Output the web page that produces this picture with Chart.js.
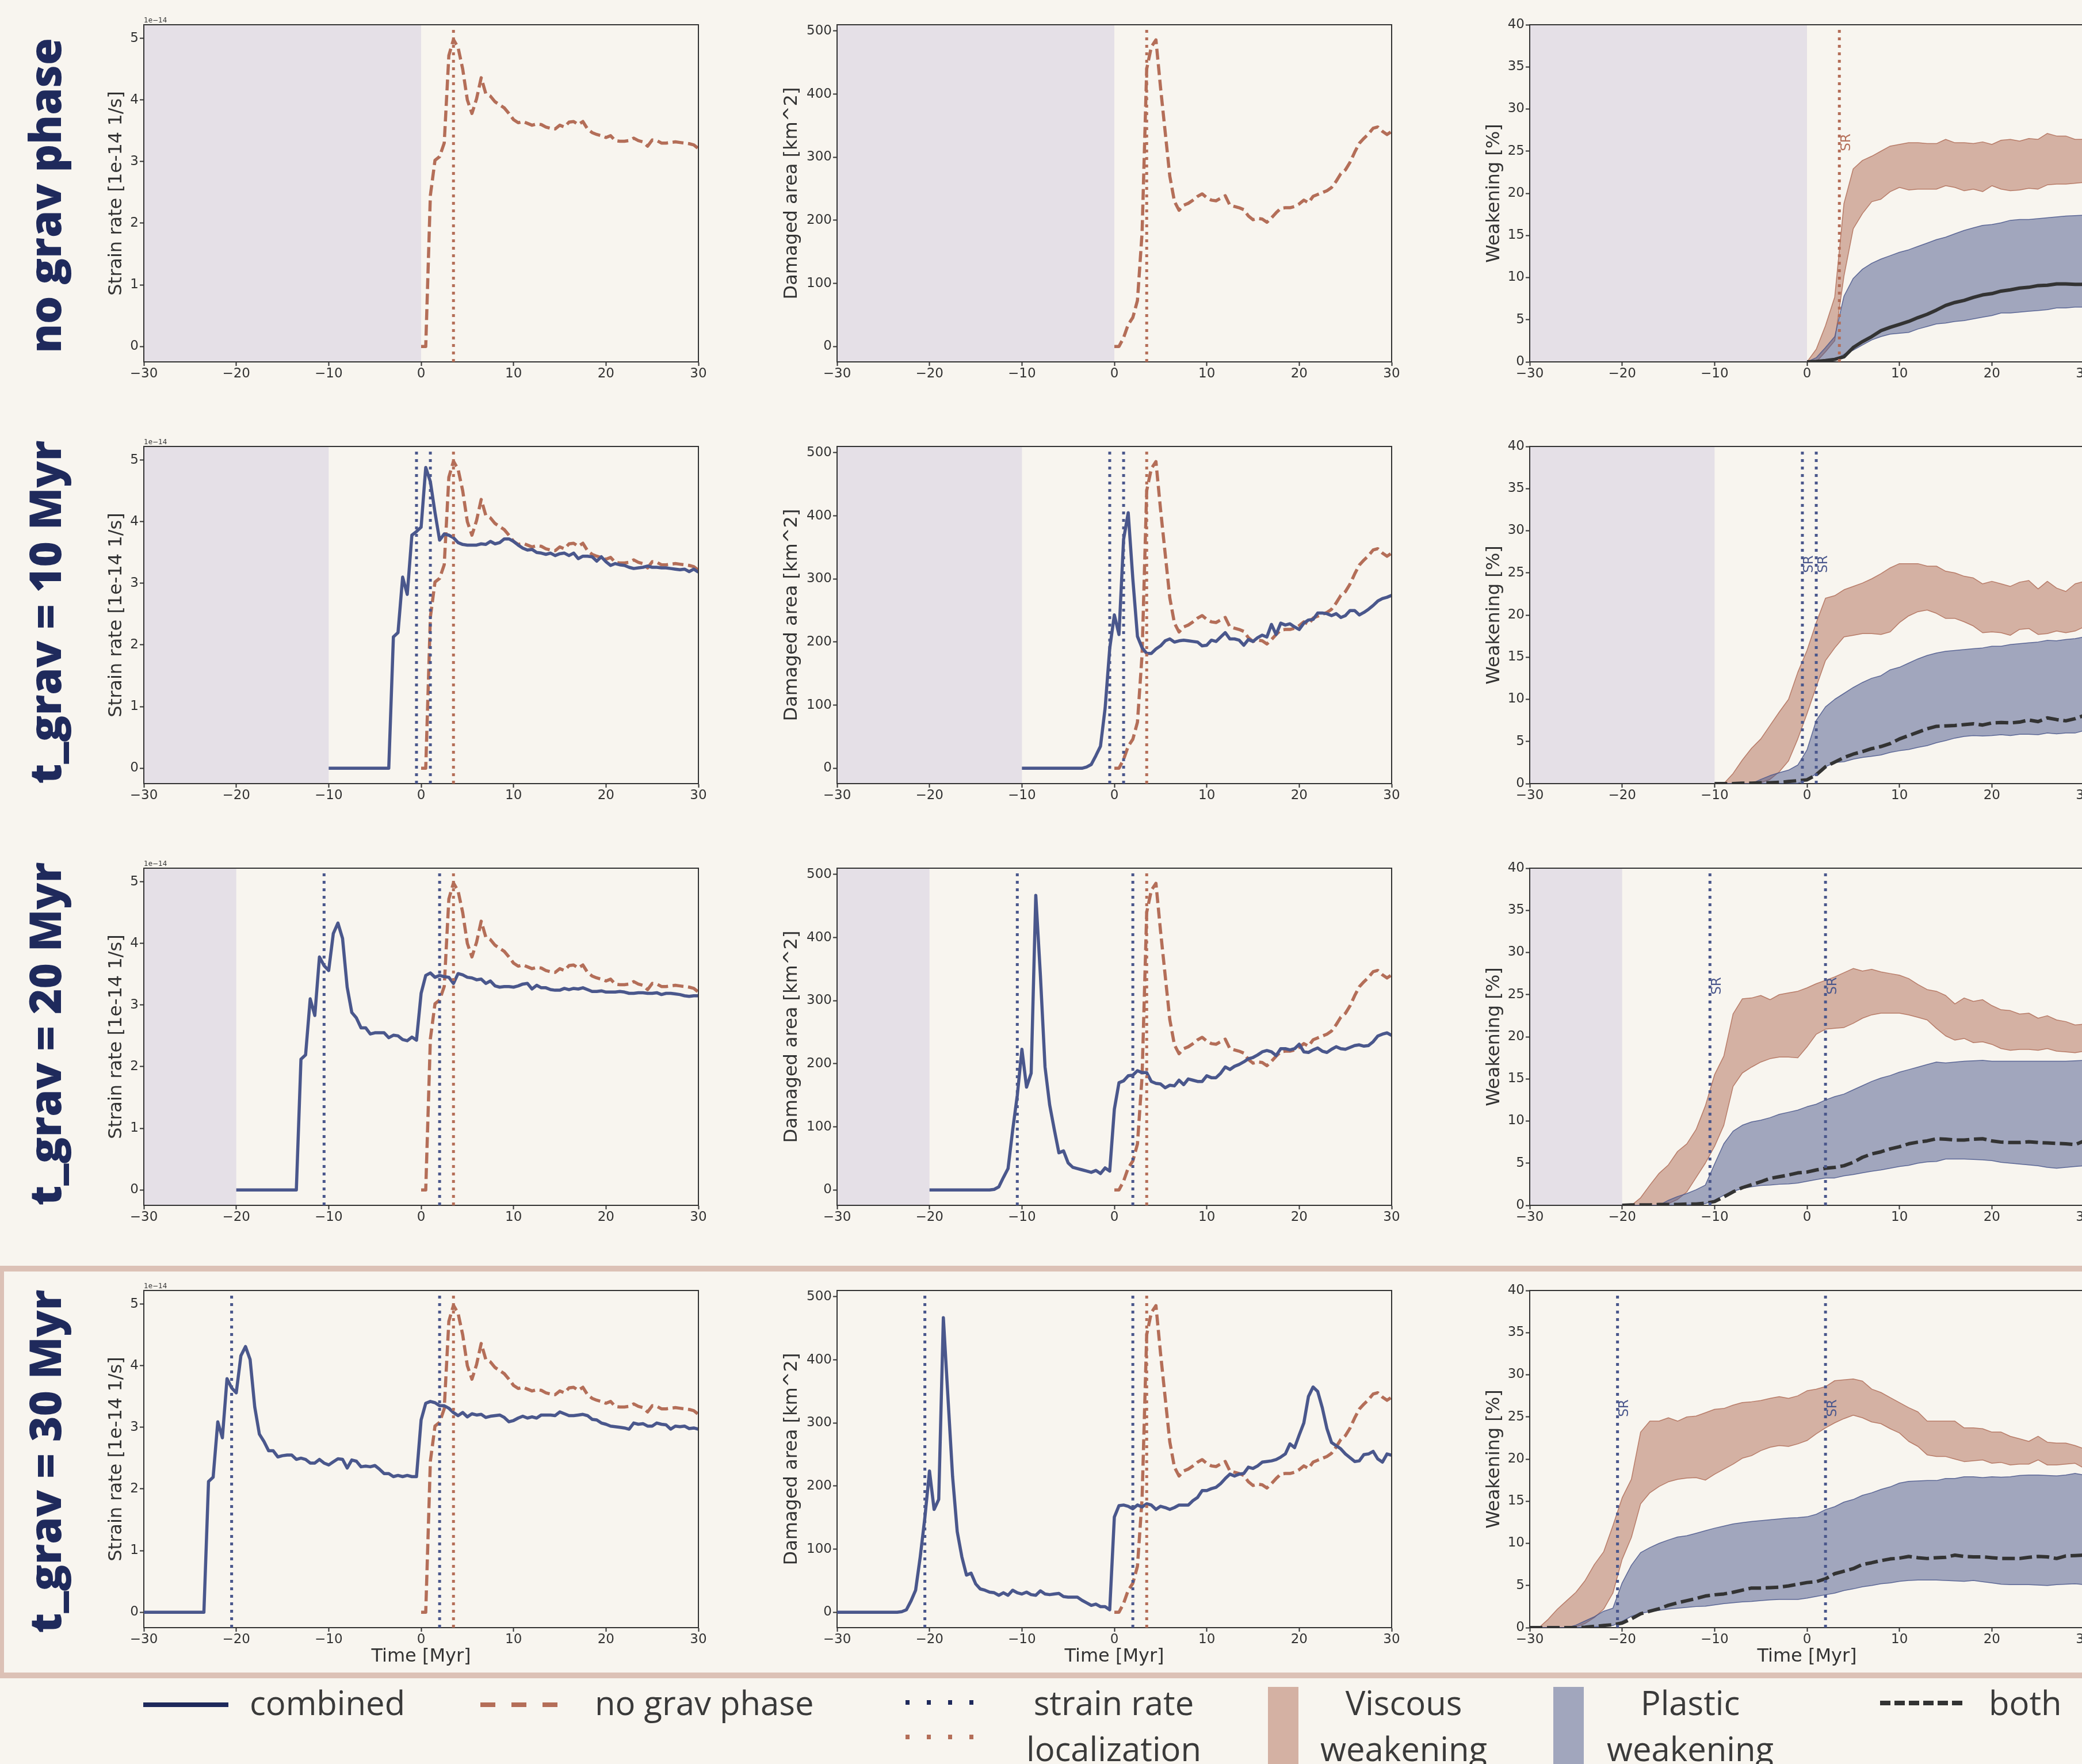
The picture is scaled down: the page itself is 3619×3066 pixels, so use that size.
<!DOCTYPE html>
<html>
<head>
<meta charset="utf-8">
<script src="https://cdn.jsdelivr.net/npm/chart.js@4.4.1/dist/chart.umd.min.js"></script>
<style>
  html, body { margin: 0; padding: 0; width: 3619px; height: 3066px; overflow: hidden; background: #f8f5ef; }
  body { position: relative; }
  canvas { position: absolute; }
  #frame { position: absolute; left: -3px; top: 2200px; width: 3700px; height: 717px; box-sizing: border-box; border: 10px solid #dcc1b6; }
  #overlay { position: absolute; left: 0; top: 0; }
</style>
</head>
<body>
<div id="frame"></div>

<svg id="overlay" width="3619" height="3066" xmlns="http://www.w3.org/2000/svg">
  <g font-family="Open Sans" font-weight="800" font-size="76" fill="#1f2a5c" text-anchor="middle" dominant-baseline="central">
    <text id="rl0" transform="translate(76,340) rotate(-90)"></text>
    <text id="rl1" transform="translate(76,1064) rotate(-90)"></text>
    <text id="rl2" transform="translate(76,1797) rotate(-90)"></text>
    <text id="rl3" transform="translate(76,2540) rotate(-90)"></text>
  </g>
  <g>
    <line x1="249" y1="2963" x2="397" y2="2963" stroke="#1f2a5c" stroke-width="8"/>
    <line x1="835" y1="2963" x2="969" y2="2963" stroke="#b46e58" stroke-width="8" stroke-dasharray="26 28"/>
    <line x1="1574" y1="2959" x2="1722" y2="2959" stroke="#1f2a5c" stroke-width="8" stroke-dasharray="7 30"/>
    <line x1="1574" y1="3019" x2="1722" y2="3019" stroke="#b46e58" stroke-width="8" stroke-dasharray="7 30"/>
    <rect x="2204" y="2932" width="53" height="140" fill="rgba(176,109,88,0.5)"/>
    <rect x="2700" y="2932" width="53" height="140" fill="rgba(74,87,140,0.5)"/>
    <line x1="3268" y1="2960" x2="3418" y2="2960" stroke="#333" stroke-width="8" stroke-dasharray="18 7"/>
  </g>
  <g font-family="Open Sans" font-size="58" fill="#3a3a3a">
    <text x="434" y="2981">combined</text>
    <text x="1034" y="2981">no grav phase</text>
    <text x="1936" y="2981" text-anchor="middle">strain rate</text>
    <text x="1936" y="3061" text-anchor="middle">localization</text>
    <text x="2440" y="2981" text-anchor="middle">Viscous</text>
    <text x="2440" y="3061" text-anchor="middle">weakening</text>
    <text x="2938" y="2981" text-anchor="middle">Plastic</text>
    <text x="2938" y="3061" text-anchor="middle">weakening</text>
    <text x="3457" y="2981">both</text>
  </g>
</svg>

<script>
// ---- data ----
const xTicks = [-30, -20, -10, 0, 10, 20, 30];
const srTicks = [0, 1, 2, 3, 4, 5];
const daTicks = [0, 100, 200, 300, 400, 500];
const wkTicks = [0, 5, 10, 15, 20, 25, 30, 35, 40];
const rowLabels = ['no grav phase', 't_grav = 10 Myr', 't_grav = 20 Myr', 't_grav = 30 Myr'];
const gravTimes = [0, 10, 20, 30];     // length of gravity phase, Myr
const locNoGrav = 3.5;                 // strain rate localization, no grav phase
const locComb = [[], [-0.5, 1.0], [-10.5, 2.0], [-20.5, 2.0]];

// strain rate [1e-14 1/s], t = 0..30 step 0.5
const srNoGrav = [0, 0, 2.45, 3.02, 3.08, 3.3, 4.72, 4.98, 4.85, 4.5, 4.0, 3.78, 4.02, 4.36, 4.1, 4.06, 3.97, 3.92, 3.87, 3.78,
  3.68, 3.63, 3.65, 3.62, 3.59, 3.61, 3.6, 3.56, 3.54, 3.53, 3.59, 3.56, 3.64, 3.65, 3.6, 3.65, 3.53, 3.47, 3.44, 3.42,
  3.39, 3.42, 3.34, 3.33, 3.33, 3.34, 3.38, 3.34, 3.32, 3.25, 3.35, 3.34, 3.3, 3.3, 3.31, 3.32, 3.31, 3.3, 3.29, 3.27, 3.21];
// damaged area [km^2], t = 0..30 step 0.5
const daNoGrav = [0, 0, 14, 35, 46, 73, 180, 440, 475, 486, 410, 340, 270, 230, 216, 224, 227, 232, 238, 242,
  236, 232, 231, 235, 239, 224, 222, 220, 217, 207, 201, 203, 202, 197, 204, 212, 219, 220, 220, 222,
  226, 232, 228, 238, 241, 244, 247, 252, 262, 274, 280, 292, 308, 322, 330, 337, 346, 348, 341, 336, 341];

// combined, t = -t_grav..30 step 0.5
const srComb10 = [0, 0, 0, 0, 0, 0, 0, 0, 0, 0, 0, 0, 0, 0,
  2.13, 2.2, 3.1, 2.82, 3.78, 3.84, 3.91, 4.88, 4.65, 4.15, 3.7, 3.8, 3.78, 3.74, 3.66, 3.63, 3.62, 3.62, 3.62, 3.64,
  3.63, 3.68, 3.64, 3.66, 3.72, 3.72, 3.68, 3.62, 3.57, 3.54, 3.55, 3.5, 3.49, 3.47, 3.49, 3.45, 3.48, 3.49, 3.45, 3.49,
  3.4, 3.44, 3.44, 3.43, 3.36, 3.43, 3.35, 3.29, 3.32, 3.3, 3.29, 3.26, 3.24, 3.25, 3.26, 3.28, 3.26, 3.26, 3.25, 3.25,
  3.24, 3.23, 3.22, 3.23, 3.19, 3.23, 3.18];
const daComb10 = [0, 0, 0, 0, 0, 0, 0, 0, 0, 0, 0, 0, 0, 0,
  2, 6, 20, 35, 95, 190, 243, 212, 363, 405, 300, 209, 191, 182, 182, 189, 194, 202, 205, 200,
  202, 203, 202, 201, 200, 194, 195, 203, 201, 208, 215, 205, 205, 203, 195, 204, 201, 207, 211, 208,
  228, 212, 230, 227, 229, 224, 220, 230, 235, 236, 246, 246, 245, 242, 245, 239, 242, 250, 250, 243,
  247, 252, 258, 265, 269, 271, 274];
const srComb20 = [0, 0, 0, 0, 0, 0, 0, 0, 0, 0, 0, 0, 0, 0,
  2.12, 2.19, 3.1, 2.83, 3.78, 3.64, 3.56, 4.16, 4.33, 4.08, 3.29, 2.88, 2.79, 2.63, 2.63, 2.53, 2.55, 2.55, 2.55, 2.47,
  2.51, 2.5, 2.44, 2.42, 2.48, 2.43,
  3.19, 3.48, 3.52, 3.45, 3.48, 3.46, 3.45, 3.35, 3.51, 3.49, 3.45, 3.44, 3.41, 3.42, 3.35, 3.39, 3.31, 3.29, 3.3, 3.3,
  3.29, 3.31, 3.34, 3.35, 3.26, 3.32, 3.28, 3.28, 3.25, 3.24, 3.24, 3.27, 3.25, 3.27, 3.26, 3.28, 3.25, 3.22, 3.22, 3.23,
  3.21, 3.21, 3.21, 3.22, 3.21, 3.19, 3.19, 3.2, 3.2, 3.19, 3.19, 3.2, 3.17, 3.19, 3.19, 3.18, 3.17, 3.15, 3.14, 3.15, 3.15];
const daComb20 = [0, 0, 0, 0, 0, 0, 0, 0, 0, 0, 0, 0, 0, 0,
  1, 5, 20, 34, 95, 150, 223, 163, 185, 467, 340, 195, 135, 96, 59, 62, 43, 36, 34, 32, 30, 28, 31, 26, 35, 30,
  128, 170, 173, 181, 182, 189, 186, 186, 172, 169, 168, 162, 166, 165, 174, 167, 176, 174, 172, 172,
  181, 178, 178, 185, 195, 191, 196, 199, 203, 208, 210, 214, 219, 221, 219, 213, 224, 224, 222, 224,
  231, 219, 218, 222, 225, 220, 218, 223, 227, 224, 223, 226, 229, 230, 228, 229, 235, 244, 247, 249, 245];
const srComb30 = [0, 0, 0, 0, 0, 0, 0, 0, 0, 0, 0, 0, 0, 0,
  2.12, 2.19, 3.09, 2.83, 3.79, 3.64, 3.56, 4.16, 4.31, 4.1, 3.33, 2.89, 2.77, 2.62, 2.62, 2.52, 2.54, 2.55, 2.55, 2.48,
  2.5, 2.48, 2.42, 2.42, 2.48, 2.42, 2.39, 2.44, 2.49, 2.48, 2.34, 2.47, 2.45, 2.36, 2.37, 2.36, 2.38, 2.32, 2.25, 2.25,
  2.2, 2.22, 2.2, 2.22, 2.2, 2.2,
  3.12, 3.39, 3.42, 3.4, 3.35, 3.35, 3.31, 3.24, 3.19, 3.24, 3.17, 3.22, 3.2, 3.21, 3.16, 3.18, 3.19, 3.2, 3.16, 3.09,
  3.11, 3.15, 3.18, 3.15, 3.17, 3.15, 3.2, 3.2, 3.2, 3.19, 3.25, 3.22, 3.19, 3.19, 3.2, 3.21, 3.19, 3.13, 3.12, 3.07,
  3.05, 3.02, 3.01, 3.0, 2.99, 2.97, 3.07, 3.05, 3.06, 3.02, 3.02, 3.07, 3.05, 3.04, 2.97, 3.02, 3.01, 3.02, 2.98, 2.99, 2.97];
const daComb30 = [0, 0, 0, 0, 0, 0, 0, 0, 0, 0, 0, 0, 0, 0,
  1, 4, 18, 35, 88, 150, 224, 163, 179, 467, 340, 215, 128, 88, 59, 62, 45, 37, 35, 32,
  31, 27, 31, 27, 35, 31, 29, 32, 28, 27, 34, 29, 28, 29, 30, 25, 24, 24, 24, 19, 15, 11, 13, 9, 9, 4,
  151, 169, 170, 168, 164, 170, 167, 172, 170, 163, 168, 166, 163, 166, 170, 170, 170, 177, 182, 193,
  193, 196, 198, 204, 212, 219, 216, 219, 220, 230, 228, 232, 238, 239, 240, 242, 246, 251, 267, 261,
  281, 300, 342, 357, 350, 324, 291, 269, 264, 259, 251, 245, 239, 240, 250, 251, 255, 243, 238, 251, 249];

// weakening [%], t = -t_grav..30 step 1
const visUp0 = [0, 1.5, 4.3, 7.7, 18.8, 22.9, 23.9, 24.4, 25.0, 25.6, 25.8, 26.0, 26.0, 25.9, 25.9, 26.4, 26.0, 26.0, 25.9, 26.1,
  25.8, 26.3, 26.4, 26.2, 26.5, 26.4, 27.1, 26.8, 26.8, 26.4, 26.4];
const visLo0 = [0, 0, 1.2, 2.5, 10.2, 15.8, 17.6, 19.0, 19.3, 20.2, 20.7, 20.4, 20.5, 20.5, 20.5, 20.9, 20.7, 20.3, 20.5, 20.2,
  20.9, 20.5, 20.3, 20.4, 20.6, 20.5, 21.0, 21.1, 21.1, 21.2, 21.3];
const plaUp0 = [0, 0.5, 1.7, 3.0, 7.8, 9.9, 11.0, 11.7, 12.2, 12.6, 13.0, 13.3, 13.7, 14.1, 14.5, 14.8, 15.2, 15.6, 15.9, 16.2,
  16.3, 16.5, 16.8, 16.9, 16.9, 17.0, 17.1, 17.2, 17.3, 17.35, 17.4];
const plaLo0 = [0, 0, 0.1, 0.3, 0.9, 1.4, 2.0, 2.6, 3.0, 3.3, 3.4, 3.5, 3.9, 4.2, 4.5, 4.6, 4.8, 4.9, 5.1, 5.3,
  5.5, 5.8, 5.8, 5.9, 6.0, 6.1, 6.2, 6.4, 6.4, 6.5, 6.5];
const both0 = [0, 0.05, 0.15, 0.3, 0.6, 1.7, 2.4, 3.0, 3.7, 4.1, 4.45, 4.8, 5.25, 5.65, 6.15, 6.7, 7.05, 7.3, 7.65, 7.95,
  8.1, 8.4, 8.55, 8.75, 8.85, 9.05, 9.1, 9.25, 9.25, 9.2, 9.2];

const visUp10 = [0, 0, 1.2, 2.8, 4.2, 5.3, 6.9, 8.5, 10.0, 13.2, 15.8, 19.1, 22.0, 22.3, 23.0, 23.4, 23.8, 24.3, 24.9, 25.6,
  26.1, 26.1, 26.1, 25.8, 25.8, 25.2, 25.0, 24.6, 24.4, 23.7, 24.0, 23.7, 23.4, 23.9, 24.1, 23.1, 24.0, 23.2, 22.8, 23.7, 24.0];
const visLo10 = [0, 0, 0, 0, 0, 0.1, 0.5, 1.4, 2.7, 5.3, 8.3, 11.5, 14.6, 16.1, 17.4, 17.6, 17.8, 17.8, 17.7, 18.0,
  19.1, 19.9, 20.4, 20.6, 20.2, 19.6, 19.6, 19.2, 18.7, 17.9, 18.0, 17.9, 17.6, 18.3, 18.4, 17.7, 17.8, 18.1, 17.9, 18.1, 18.6];
const plaUp10 = [0, 0, 0, 0, 0, 0.5, 0.95, 1.3, 1.6, 2.2, 4.0, 7.5, 9.1, 10.0, 10.7, 11.4, 12.0, 12.5, 12.8, 13.5,
  13.8, 14.3, 14.8, 15.2, 15.5, 15.7, 15.8, 15.9, 16.0, 16.1, 16.3, 16.3, 16.5, 16.6, 16.7, 16.8, 17.0, 16.95, 17.1, 17.2, 17.4];
const plaLo10 = [0, 0, 0, 0, 0, 0, 0, 0, 0, 0.05, 0.4, 1.2, 2.0, 2.5, 2.6, 2.9, 3.1, 3.25, 3.4, 3.7,
  3.9, 4.05, 4.3, 4.5, 4.85, 5.1, 5.4, 5.6, 5.7, 5.65, 5.7, 5.8, 5.7, 5.85, 5.85, 5.8, 6.0, 5.9, 6.0, 6.0, 6.3];
const both10 = [0, 0, 0, 0.05, 0.05, 0.1, 0.1, 0.15, 0.25, 0.35, 0.45, 1.05, 2.0, 2.55, 3.1, 3.5, 3.8, 4.15, 4.4, 4.75,
  5.3, 5.7, 6.1, 6.5, 6.8, 6.85, 6.9, 7.0, 7.1, 6.95, 7.2, 7.25, 7.2, 7.3, 7.55, 7.35, 7.8, 7.6, 7.45, 7.7, 8.1];

const visUp20 = [0, 0, 0.9, 2.4, 3.8, 4.8, 6.4, 7.3, 9.0, 11.8, 15.5, 17.7, 22.7, 24.5, 24.6, 24.9, 24.4, 25.0, 25.2, 25.4,
  25.8, 26.3, 26.7, 27.1, 27.6, 28.1, 27.8, 28.0, 27.7, 27.5, 27.3, 26.9, 26.2, 25.6, 25.4, 24.9, 23.9, 24.6, 24.2, 24.4,
  23.7, 23.2, 23.1, 22.7, 22.8, 22.2, 22.5, 22.0, 21.8, 21.4, 21.5];
const visLo20 = [0, 0, 0, 0, 0, 0.2, 0.7, 1.6, 3.3, 5.0, 7.0, 9.5, 14.1, 15.7, 16.4, 17.0, 17.4, 17.6, 17.6, 17.5,
  18.8, 20.3, 20.9, 21.0, 21.1, 21.6, 22.2, 22.6, 22.8, 22.8, 22.8, 22.6, 22.3, 22.0, 21.0, 20.1, 19.6, 19.8, 19.3, 19.4,
  19.1, 18.6, 18.4, 18.5, 18.5, 18.4, 18.6, 18.3, 18.2, 18.1, 18.3];
const plaUp20 = [0, 0, 0, 0, 0, 0.6, 1.05, 1.4, 1.85, 2.4, 4.9, 7.3, 8.8, 9.5, 9.9, 10.1, 10.4, 10.8, 11.05, 11.3,
  11.7, 12.0, 12.5, 12.9, 13.2, 13.7, 14.2, 14.7, 15.1, 15.4, 15.8, 16.1, 16.4, 16.7, 17.0, 16.9, 17.0, 17.1, 17.15, 17.2,
  17.1, 17.1, 17.1, 17.1, 17.1, 17.1, 17.1, 17.1, 17.1, 17.15, 17.2];
const plaLo20 = [0, 0, 0, 0, 0, 0, 0, 0.05, 0.1, 0.2, 0.6, 1.2, 1.65, 2.0, 2.2, 2.35, 2.4, 2.5, 2.55, 2.65,
  2.85, 3.05, 3.25, 3.25, 3.5, 3.65, 3.85, 4.05, 4.2, 4.4, 4.6, 4.75, 5.0, 5.15, 5.2, 5.5, 5.5, 5.5, 5.45, 5.4,
  5.3, 5.1, 5.0, 4.9, 4.8, 4.7, 4.5, 4.4, 4.5, 4.6, 4.7];
const both20 = [0, 0.05, 0.05, 0.05, 0.1, 0.1, 0.1, 0.15, 0.15, 0.25, 0.45, 1.0, 1.6, 2.1, 2.45, 2.8, 3.2, 3.4, 3.6, 3.85,
  3.95, 4.2, 4.4, 4.5, 4.7, 5.1, 5.7, 6.1, 6.35, 6.7, 6.95, 7.3, 7.5, 7.65, 7.9, 7.85, 7.75, 7.75, 7.85, 7.9,
  7.65, 7.5, 7.45, 7.45, 7.55, 7.45, 7.4, 7.35, 7.3, 7.2, 7.65];

const visUp30 = [0, 0, 1.0, 2.2, 3.2, 4.2, 5.6, 7.5, 9.0, 12.1, 15.4, 17.6, 23.2, 24.5, 24.5, 24.9, 24.5, 25.0, 25.1, 25.5,
  25.9, 26.0, 26.4, 26.7, 26.8, 26.95, 27.2, 27.4, 27.2, 27.5,
  28.1, 28.3, 28.6, 29.3, 29.4, 29.5, 29.25, 28.3, 27.9, 27.3, 26.7, 26.1, 25.6, 24.5, 24.5, 24.5, 24.5, 23.7, 23.7, 23.6,
  23.2, 23.2, 22.7, 22.4, 22.1, 22.7, 22.0, 21.9, 21.9, 21.6, 21.2];
const visLo30 = [0, 0, 0, 0, 0, 0.1, 0.5, 1.2, 2.2, 4.1, 8.1, 10.7, 14.7, 16.0, 16.75, 17.3, 17.6, 17.75, 17.8, 17.5,
  18.2, 18.8, 19.4, 20.1, 20.4, 21.0, 21.4, 21.6, 21.5, 21.8,
  22.2, 23.0, 23.7, 24.3, 24.8, 25.2, 24.9, 24.4, 24.2, 23.6, 23.1, 22.1, 21.5, 20.5, 20.3, 20.3, 20.0, 19.7, 19.8, 19.9,
  19.5, 19.6, 19.3, 19.4, 19.4, 19.9, 19.3, 19.3, 19.4, 19.5, 18.9];
const plaUp30 = [0, 0, 0, 0, 0, 0.3, 0.8, 1.3, 1.95, 2.3, 5.3, 7.4, 8.9, 9.5, 10.0, 10.4, 10.75, 10.9, 11.2, 11.5,
  11.8, 12.05, 12.3, 12.45, 12.6, 12.7, 12.8, 12.9, 13.0, 13.05,
  13.15, 13.45, 14.0, 14.35, 14.9, 15.2, 15.7, 16.0, 16.4, 16.7, 17.15, 17.35, 17.4, 17.45, 17.45, 17.7, 17.7, 17.9, 17.9, 17.8,
  17.9, 17.85, 17.9, 18.05, 18.1, 18.1, 18.05, 18.0, 18.1, 18.3, 18.1];
const plaLo30 = [0, 0, 0, 0, 0, 0, 0.05, 0.1, 0.15, 0.25, 0.75, 1.35, 1.7, 1.9, 2.05, 2.2, 2.3, 2.4, 2.5, 2.55,
  2.7, 2.85, 2.95, 3.05, 3.1, 3.2, 3.3, 3.35, 3.35, 3.35,
  3.5, 3.7, 3.9, 4.1, 4.4, 4.6, 4.85, 5.0, 5.2, 5.3, 5.5, 5.6, 5.65, 5.65, 5.65, 5.6, 5.55, 5.5, 5.6, 5.45,
  5.3, 5.15, 5.1, 5.1, 5.1, 5.05, 5.0, 5.1, 5.15, 5.2, 5.1];
const both30 = [0, 0, 0, 0, 0, 0, 0.05, 0.15, 0.25, 0.35, 0.55, 1.05, 1.65, 1.95, 2.25, 2.65, 2.95, 3.2, 3.45, 3.75,
  3.9, 4.0, 4.2, 4.45, 4.7, 4.7, 4.75, 4.8, 4.95, 5.15,
  5.35, 5.45, 5.8, 6.4, 6.7, 7.0, 7.5, 7.7, 7.95, 8.15, 8.25, 8.45, 8.3, 8.2, 8.3, 8.35, 8.6, 8.45, 8.4, 8.4,
  8.3, 8.2, 8.2, 8.2, 8.35, 8.45, 8.4, 8.2, 8.5, 8.55, 8.6];

// ---- layout / style ----
const BLUE = '#4a578c';
const BROWN = '#b46e58';
const INK = '#333333';
const SHADE = '#e5e0e7';
const VIS_FILL = 'rgba(176,109,88,0.5)';
const PLA_FILL = 'rgba(74,87,140,0.5)';
const VIS_EDGE = 'rgba(176,109,88,0.85)';
const PLA_EDGE = 'rgba(74,87,140,0.85)';
const LW = 5.5;

const colX = [250, 1455, 2659];
const rowY = [43, 776, 1509, 2243];
const W = 964, H = 586;
const PAD_L = 130, PAD_T = 24, PAD_R = 24, PAD_B = 80;

const yRanges = [[-0.25, 5.22], [-24.3, 510], [0, 40]];
const yTickSets = [srTicks, daTicks, wkTicks];
const yTitles = ['Strain rate [1e-14 1/s]', 'Damaged area [km^2]', 'Weakening [%]'];
const yTitlePad = [63.5, 32.8, 49.5];

const rows = [
  { sr: null, da: null, visUp: visUp0, visLo: visLo0, plaUp: plaUp0, plaLo: plaLo0, both: both0 },
  { sr: srComb10, da: daComb10, visUp: visUp10, visLo: visLo10, plaUp: plaUp10, plaLo: plaLo10, both: both10 },
  { sr: srComb20, da: daComb20, visUp: visUp20, visLo: visLo20, plaUp: plaUp20, plaLo: plaLo20, both: both20 },
  { sr: srComb30, da: daComb30, visUp: visUp30, visLo: visLo30, plaUp: plaUp30, plaLo: plaLo30, both: both30 }
];

rowLabels.forEach((t, i) => { document.getElementById('rl' + i).textContent = t; });

Chart.defaults.font.family = "'DejaVu Sans'";

function seq(t0, step, vals) {
  return vals.map((v, i) => ({ x: t0 + i * step, y: v }));
}
const minus = v => (v < 0 ? '\u2212' + Math.abs(v) : String(v));

// shading of the gravity phase, SR labels, top/right spines, offset text
const decor = {
  id: 'decor',
  beforeDraw(chart, args, o) {
    const { ctx, chartArea: a, scales: { x } } = chart;
    if (o.shadeTo === null) return;
    const x1 = x.getPixelForValue(o.shadeTo);
    ctx.save();
    ctx.fillStyle = SHADE;
    ctx.fillRect(a.left, a.top, x1 - a.left, a.bottom - a.top);
    ctx.restore();
  },
  afterDatasetsDraw(chart, args, o) {
    const { ctx, chartArea: a, scales: { x, y } } = chart;
    ctx.save();
    o.labels.forEach(l => {
      ctx.save();
      ctx.translate(x.getPixelForValue(l.t) + 1, y.getPixelForValue(25));
      ctx.rotate(-Math.PI / 2);
      ctx.font = "23px 'DejaVu Sans'";
      ctx.fillStyle = l.color;
      ctx.textAlign = 'left';
      ctx.textBaseline = 'top';
      ctx.fillText('SR', 0, 0);
      ctx.restore();
    });
    ctx.strokeStyle = INK;
    ctx.lineWidth = 2;
    ctx.beginPath();
    ctx.moveTo(a.left, a.top);
    ctx.lineTo(a.right, a.top);
    ctx.lineTo(a.right, a.bottom);
    ctx.stroke();
    if (o.offsetText) {
      ctx.font = "12px 'DejaVu Sans'";
      ctx.fillStyle = INK;
      ctx.textAlign = 'left';
      ctx.textBaseline = 'alphabetic';
      ctx.fillText(o.offsetText, a.left, a.top - 4);
    }
    ctx.restore();
  }
};

function panel(row, col) {
  const r = rows[row];
  const tg = gravTimes[row];
  const yr = yRanges[col];
  const c = document.createElement('canvas');
  c.width = W + PAD_L + PAD_R;
  c.height = H + PAD_T + PAD_B;
  c.style.left = (colX[col] - PAD_L) + 'px';
  c.style.top = (rowY[row] - PAD_T) + 'px';
  document.body.appendChild(c);

  const vline = (t, color) => ({
    data: [{ x: t, y: yr[0] }, { x: t, y: yr[1] }],
    borderColor: color, borderWidth: 5, borderDash: [5, 8], order: 1
  });

  const datasets = [];
  const labels = [];
  if (col < 2) {
    datasets.push({ data: seq(0, 0.5, col === 0 ? srNoGrav : daNoGrav), borderColor: BROWN, borderWidth: LW, borderDash: [19, 8], order: 3 });
    if (row > 0) {
      datasets.push({ data: seq(-tg, 0.5, col === 0 ? r.sr : r.da), borderColor: BLUE, borderWidth: LW, order: 2 });
    }
    datasets.push(vline(locNoGrav, BROWN));
    locComb[row].forEach(t => datasets.push(vline(t, BLUE)));
  } else {
    datasets.push(
      { data: seq(-tg, 1, r.visLo), borderColor: VIS_EDGE, borderWidth: 1.5, order: 10 },
      { data: seq(-tg, 1, r.visUp), borderColor: VIS_EDGE, borderWidth: 1.5, fill: '-1', backgroundColor: VIS_FILL, order: 9 },
      { data: seq(-tg, 1, r.plaLo), borderColor: PLA_EDGE, borderWidth: 1.5, order: 8 },
      { data: seq(-tg, 1, r.plaUp), borderColor: PLA_EDGE, borderWidth: 1.5, fill: '-1', backgroundColor: PLA_FILL, order: 7 },
      { data: seq(-tg, 1, r.both), borderColor: INK, borderWidth: 6, borderDash: row === 0 ? [] : [22, 8], order: 2 }
    );
    if (row === 0) {
      datasets.push(vline(locNoGrav, BROWN));
      labels.push({ t: locNoGrav, color: BROWN });
    } else {
      locComb[row].forEach(t => { datasets.push(vline(t, BLUE)); labels.push({ t, color: BLUE }); });
    }
  }

  new Chart(c, {
    type: 'line',
    data: { datasets },
    options: {
      responsive: false,
      animation: false,
      devicePixelRatio: 1,
      events: [],
      layout: { padding: { top: PAD_T, right: PAD_R, left: 0, bottom: 0 } },
      datasets: { line: { pointRadius: 0, tension: 0, fill: false, borderJoinStyle: 'round', borderCapStyle: 'butt' } },
      plugins: {
        legend: { display: false },
        tooltip: { enabled: false },
        decor: {
          shadeTo: tg < 30 ? -tg : null,
          labels,
          offsetText: col === 0 ? '1e\u221214' : null
        }
      },
      scales: {
        x: {
          type: 'linear', min: -30, max: 30,
          afterBuildTicks: s => { s.ticks = xTicks.map(v => ({ value: v })); },
          afterFit: s => { s.height = PAD_B; },
          ticks: { color: INK, font: { size: 23 }, padding: 0, maxRotation: 0, autoSkip: false, callback: minus },
          grid: { drawOnChartArea: false, drawTicks: true, tickLength: 7, tickWidth: 2, tickColor: INK },
          border: { display: true, color: INK, width: 2 },
          title: { display: row === 3, text: 'Time [Myr]', color: INK, font: { size: 32 }, padding: { top: 0, bottom: 9.8 } }
        },
        y: {
          type: 'linear', min: yr[0], max: yr[1],
          afterBuildTicks: s => { s.ticks = yTickSets[col].map(v => ({ value: v })); },
          afterFit: s => { s.width = PAD_L; },
          ticks: { color: INK, font: { size: 23 }, padding: 2, autoSkip: false, callback: v => String(v) },
          grid: { drawOnChartArea: false, drawTicks: true, tickLength: 7, tickWidth: 2, tickColor: INK },
          border: { display: true, color: INK, width: 2 },
          title: { display: true, text: yTitles[col], color: INK, font: { size: 32 }, padding: { top: yTitlePad[col], bottom: 0 } }
        }
      }
    },
    plugins: [decor]
  });
}

for (let row = 0; row < 4; row++) {
  for (let col = 0; col < 3; col++) panel(row, col);
}
</script>
</body>
</html>
